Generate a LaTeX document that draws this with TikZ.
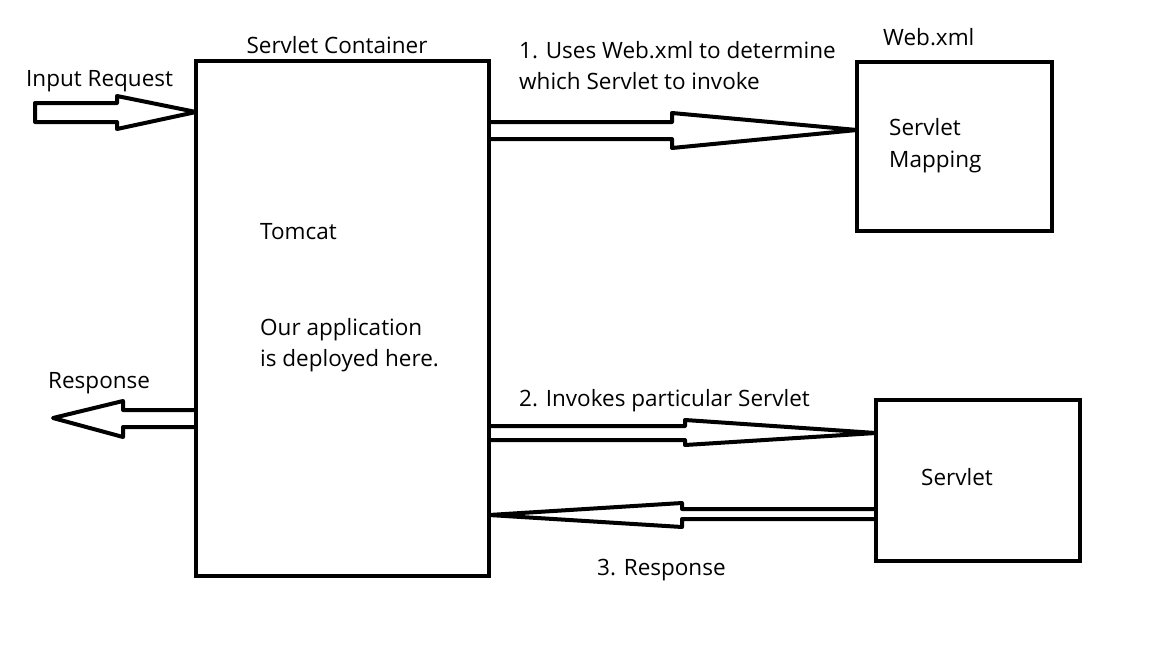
\documentclass[tikz,border=0pt]{standalone}
\usepackage{fontspec}
\setmainfont{Open Sans}
\begin{document}
\begin{tikzpicture}[x=1pt,y=-1pt,
  box/.style={draw,line width=4pt,inner sep=0pt,outer sep=0pt,anchor=north west},
  fat/.style={draw,line width=4pt,line join=round},
  lbl/.style={inner sep=0pt,font=\fontsize{22.5}{27}\selectfont,anchor=base west,align=left}]
\useasboundingbox[fill=white] (0,0) rectangle (1152,648);
\node[box,minimum width=293pt,minimum height=515pt] (cont) at (196,61) {};
\node[box,minimum width=195pt,minimum height=169pt] (web) at (857,62) {};
\node[box,minimum width=204pt,minimum height=161pt] (serv) at (876,400) {};
% labels
\node[lbl,anchor=base] (tcont) at (337,53) {Servlet Container};
\node[lbl] (tin) at (26,86) {Input Request};
\node[lbl] (t1a) at (519,58) {1. Uses Web.xml to determine};
\node[lbl] (t1b) at (519,89) {which Servlet to invoke};
\node[lbl] (tweb) at (883,45) {Web.xml};
\node[lbl] (tsm1) at (889,135) {Servlet};
\node[lbl] (tsm2) at (889,167) {Mapping};
\node[lbl] (ttom) at (260,239) {Tomcat};
\node[lbl] (tapp1) at (260,335) {Our application};
\node[lbl] (tapp2) at (260,366) {is deployed here.};
\node[lbl] (tresp) at (48,388) {Response};
\node[lbl] (t2) at (519,406) {2. Invokes particular Servlet};
\node[lbl] (tserv) at (921,485) {Servlet};
\node[lbl] (t3) at (597,575) {3. Response};
% connector end points
\coordinate (inS) at (35,112);
\coordinate (respE) at (53,418);
% input request arrow
\draw[fat] (inS |- 0,103) -- (117,103) -- (117,96) -- (cont.west |- 0,112) -- (117,129) -- (117,122) -- (inS |- 0,122) -- cycle;
% 1. to web.xml
\draw[fat] (cont.east |- 0,122) -- (672,122) -- (672,113) -- (web.west |- 0,130) -- (672,148) -- (672,139) -- (cont.east |- 0,139);
% response out
\draw[fat] (cont.west |- 0,410) -- (123,410) -- (123,401) -- (respE) -- (123,437) -- (123,427) -- (cont.west |- 0,427);
% 2. invokes servlet
\draw[fat] (cont.east |- 0,426) -- (685,426) -- (685,420) -- (serv.west |- 0,433) -- (685,445) -- (685,440) -- (cont.east |- 0,440);
% 3. response back
\draw[fat] (serv.west |- 0,509) -- (682,509) -- (682,503) -- (cont.east |- 0,515) -- (682,527) -- (682,519) -- (serv.west |- 0,519);
\end{tikzpicture}
\end{document}
